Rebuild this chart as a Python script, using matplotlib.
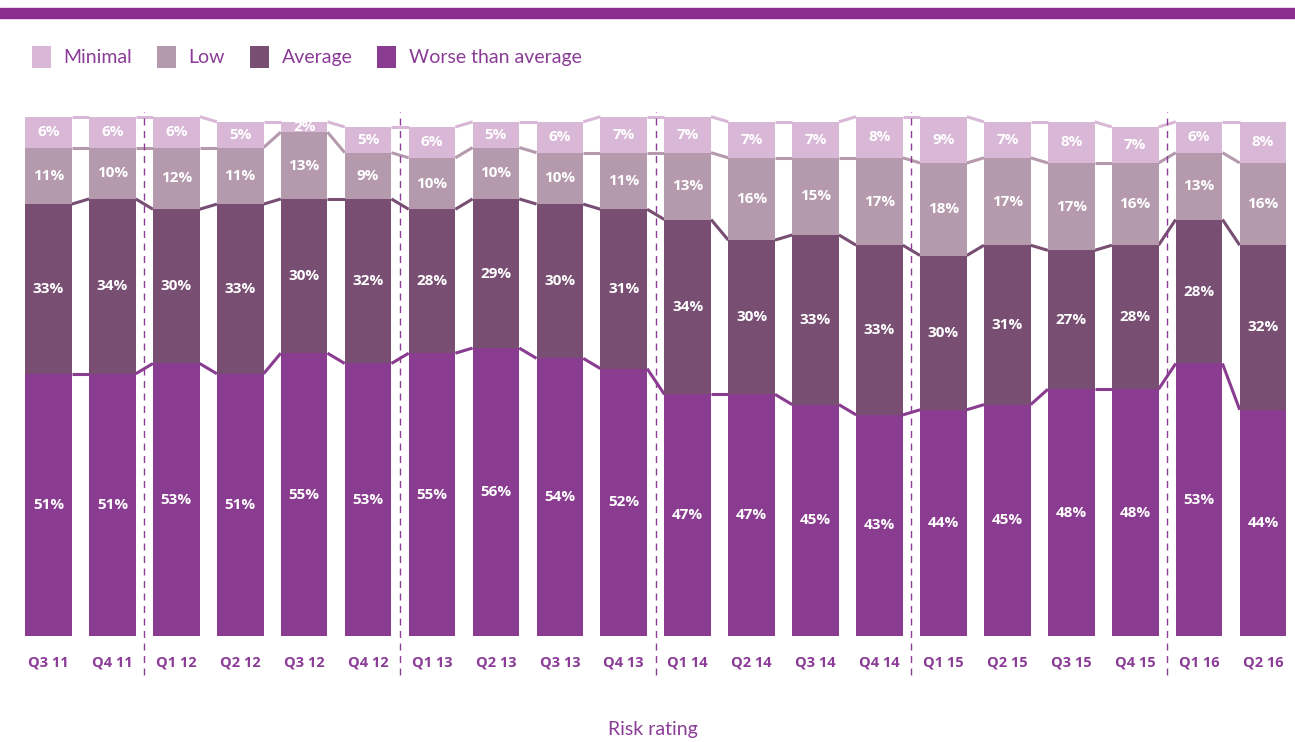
import matplotlib
matplotlib.use('Agg')
import matplotlib.pyplot as plt
import numpy as np

plt.rcParams['font.family'] = ['Lato', 'DejaVu Sans']

quarters = ['Q3 11', 'Q4 11', 'Q1 12', 'Q2 12', 'Q3 12', 'Q4 12', 'Q1 13', 'Q2 13',
            'Q3 13', 'Q4 13', 'Q1 14', 'Q2 14', 'Q3 14', 'Q4 14', 'Q1 15', 'Q2 15',
            'Q3 15', 'Q4 15', 'Q1 16', 'Q2 16']
worse = [51, 51, 53, 51, 55, 53, 55, 56, 54, 52, 47, 47, 45, 43, 44, 45, 48, 48, 53, 44]
average = [33, 34, 30, 33, 30, 32, 28, 29, 30, 31, 34, 30, 33, 33, 30, 31, 27, 28, 28, 32]
low = [11, 10, 12, 11, 13, 9, 10, 10, 10, 11, 13, 16, 15, 17, 18, 17, 17, 16, 13, 16]
minimal = [6, 6, 6, 5, 2, 5, 6, 5, 6, 7, 7, 7, 7, 8, 9, 7, 8, 7, 6, 8]

series = [('Worse than average', worse, '#8a3c90'),
          ('Average', average, '#784e72'),
          ('Low', low, '#b59aae'),
          ('Minimal', minimal, '#d9b7d6')]
text_purple = '#8a3c96'
bold_font = ['Open Sans', 'DejaVu Sans']

fig = plt.figure(figsize=(12.95, 7.42), dpi=100)
ax = fig.add_axes([16.5 / 1295, 106 / 742, 1 - 16.5 / 1295, 526 / 742])

x = np.arange(len(quarters))
w = 0.73
bottom = np.zeros(len(quarters))
for name, vals, col in series:
    vals = np.array(vals, dtype=float)
    ax.bar(x, vals, w, bottom=bottom, color=col, label=name, zorder=2)
    top = bottom + vals
    # connector lines between bars
    for i in range(len(x) - 1):
        ax.plot([x[i] + w / 2, x[i + 1] - w / 2], [top[i], top[i + 1]],
                color=col, lw=2.2, solid_capstyle='butt', zorder=1)
    for i in range(len(x)):
        ax.text(x[i], bottom[i] + vals[i] / 2, f'{int(vals[i])}%', ha='center', va='center',
                color='white', fontsize=11, fontweight='bold', family=bold_font, zorder=3)
    bottom = top

# year separators
for b in [1.5, 5.5, 9.5, 13.5, 17.5]:
    ax.plot([b, b], [-7.5, 102], color=text_purple, lw=1, ls=(0, (5, 4)),
            clip_on=False, zorder=1)

ax.set_xlim(-0.5, len(quarters) - 0.5)
ax.set_ylim(0, 102.3)
ax.set_xticks(x)
ax.set_xticklabels(quarters, color=text_purple, fontsize=10.5, fontweight='bold',
                   family=bold_font)
ax.tick_params(axis='x', length=0, pad=14)
ax.set_yticks([])
for s in ax.spines.values():
    s.set_visible(False)

fig.text(653 / 1295, 1 - 729 / 742, 'Risk rating', color=text_purple, fontsize=14,
         ha='center', va='center')

# top band
fig.patches.append(plt.Rectangle((0, 1 - 18 / 742), 1, 10 / 742, transform=fig.transFigure,
                                 color='#8a2d8f', zorder=0))

handles, labels = ax.get_legend_handles_labels()
order = [3, 2, 1, 0]
leg = fig.legend([handles[i] for i in order], [labels[i] for i in order],
                 loc='center left', bbox_to_anchor=(14 / 1295, 1 - 57 / 742), ncol=4,
                 frameon=False, fontsize=14, handlelength=1.0, handleheight=1.35,
                 handletextpad=0.65, columnspacing=1.25)
for t in leg.get_texts():
    t.set_color(text_purple)

plt.savefig('out.png', dpi=100)
